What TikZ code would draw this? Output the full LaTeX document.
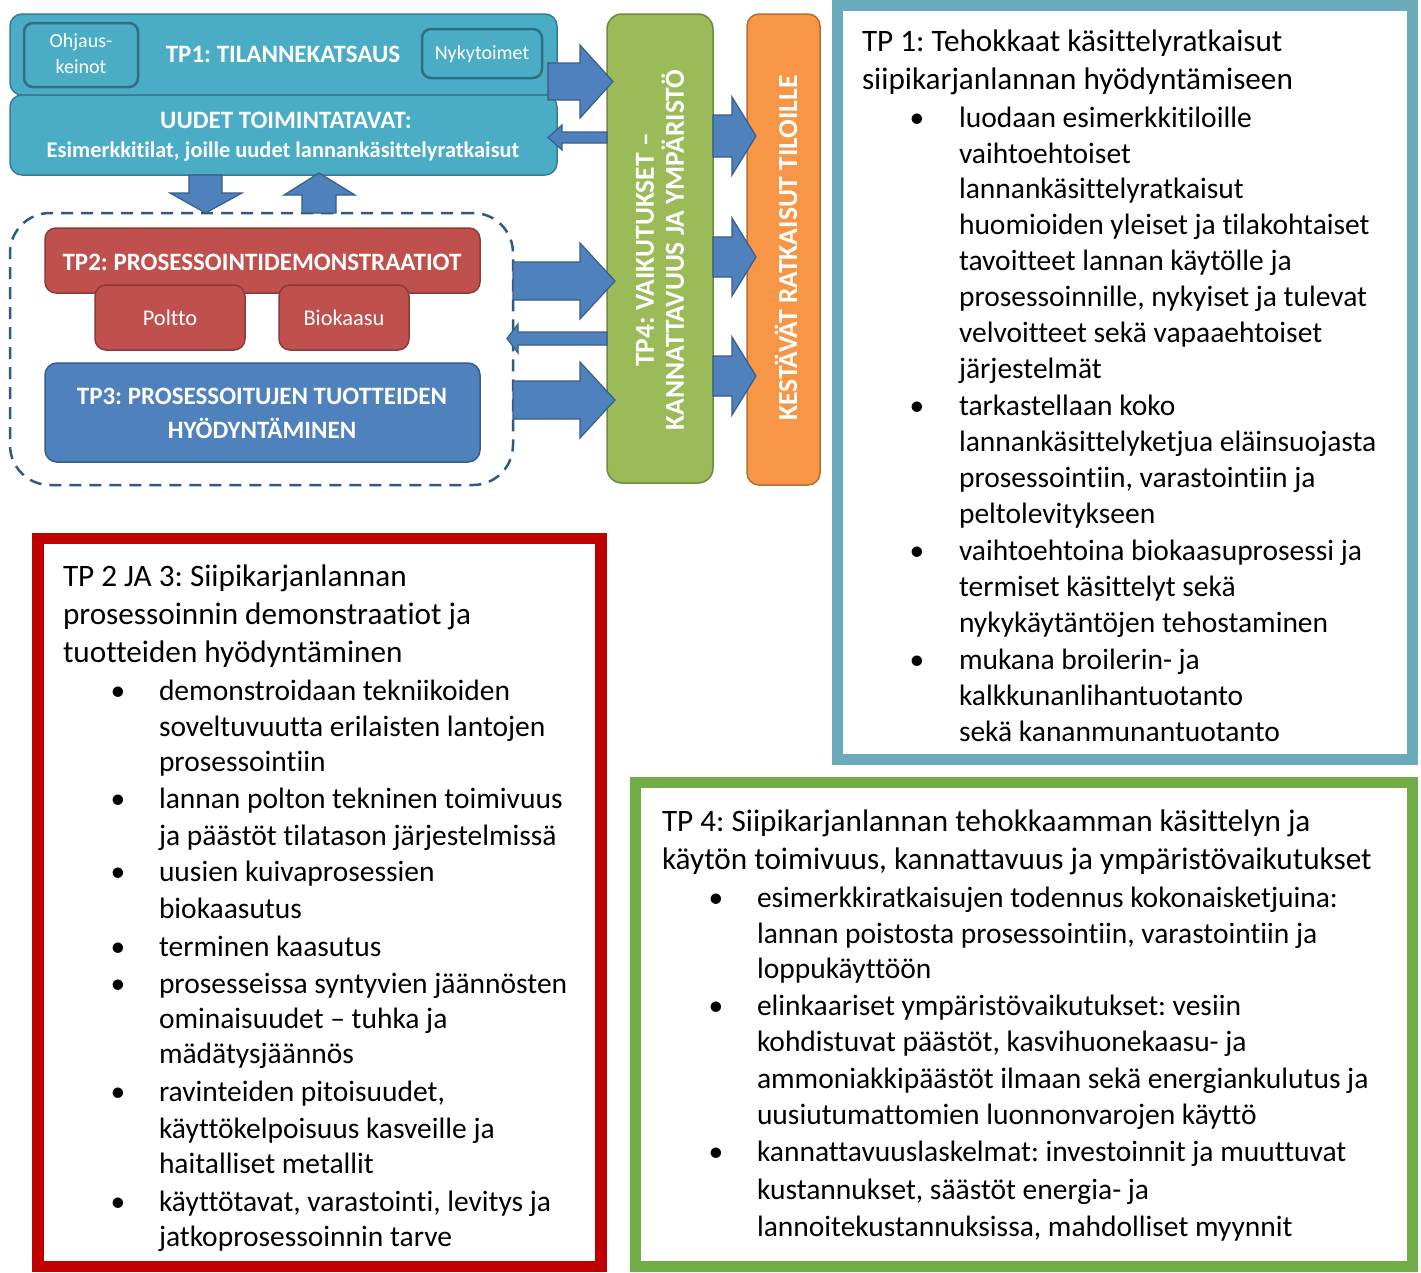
\documentclass[tikz,border=0pt]{standalone}
\usepackage{fontspec}
\setmainfont{Carlito}[Ligatures={NoCommon}]
\newcommand\myfs[2]{\fontsize{#1}{#2}\selectfont}
\definecolor{tealfill}{HTML}{4BACC6}
\definecolor{tealdk}{HTML}{357F94}
\definecolor{tealin}{HTML}{2E6F80}
\definecolor{redfill}{HTML}{C0504D}
\definecolor{reddk}{HTML}{8C3A38}
\definecolor{bluefill}{HTML}{4F81BD}
\definecolor{bluedk}{HTML}{385D8A}
\definecolor{greenfill}{HTML}{9BBB59}
\definecolor{greendk}{HTML}{71893F}
\definecolor{orangefill}{HTML}{F79646}
\definecolor{orangedk}{HTML}{B66D31}
\definecolor{dashcol}{HTML}{2F5A87}
\definecolor{frameblue}{HTML}{69AABB}
\definecolor{framered}{HTML}{C00000}
\definecolor{framegreen}{HTML}{70AD47}
\tikzset{
  every node/.style={inner sep=0pt, outer sep=0pt},
  tealbox/.style={draw=tealdk, line width=1.5pt, fill=tealfill, rounded corners=12pt},
  innerbox/.style={draw=tealin, line width=2.5pt, fill=tealfill, rounded corners=9pt},
  redbox/.style={draw=reddk, line width=1.5pt, fill=redfill, rounded corners=11pt},
  bluebox/.style={draw=bluedk, line width=1.5pt, fill=bluefill, rounded corners=12pt},
  greenbox/.style={draw=greendk, line width=1.5pt, fill=greenfill, rounded corners=15pt},
  orangebox/.style={draw=orangedk, line width=1.5pt, fill=orangefill, rounded corners=12pt},
  blockarrow/.style={draw=bluedk, line width=1.2pt, fill=bluefill, line join=miter},
  grpbox/.style={draw=dashcol, line width=2.5pt, dash pattern=on 12pt off 8pt, rounded corners=40pt},
  wb/.style={text=white, font=\bfseries\myfs{25}{34}, align=center},
  wr/.style={text=white, font=\myfs{20}{26}, align=center},
  ptitle/.style={anchor=west, font=\myfs{31.2}{38}, text height=24.5pt, text depth=6.5pt},
  pline/.style={anchor=west, font=\myfs{29.5}{36}, text height=23pt, text depth=6pt},
  pbul/.style={anchor=center, font=\myfs{29.5}{36}, text height=23pt, text depth=6pt},
  pframe/.style={draw=#1, line width=11.5pt, fill=white}
}
\begin{document}
\frenchspacing
\begin{tikzpicture}[x=1pt,y=-1pt]
\useasboundingbox (0,0) rectangle (1421,1272);
\fill[white] (0,0) rectangle (1421,1272);

% ---------- diagram ----------
\node[grpbox, minimum width=503pt, minimum height=272pt] (grp) at (261.5,349) {};

\node[tealbox, minimum width=547pt, minimum height=81pt] (tp1) at (283.5,54.5) {};
\node[tealbox, minimum width=547pt, minimum height=80pt] (uud) at (283.5,135) {};
\node[innerbox, minimum width=114pt, minimum height=64pt] (ohj) at (81,55) {};
\node[innerbox, minimum width=120pt, minimum height=49pt] (nyk) at (482,53.5) {};
\node[wb] (tp1t) at (283,54) {TP1: TILANNEKATSAUS};
\node[wr] (ohjt) at (81,54) {Ohjaus-\\keinot};
\node[wr] (nykt) at (482,54) {Nykytoimet};
\node[wb] (uudt1) at (286,120) {UUDET TOIMINTATAVAT:};
\node[wb, font=\bfseries\myfs{22.4}{26}] (uudt2) at (283,152) {Esimerkkitilat, joille uudet lannankäsittelyratkaisut};

\node[redbox, minimum width=435pt, minimum height=65pt] (tp2) at (262.5,260.5) {};
\node[wb] (tp2t) at (262,262) {TP2: PROSESSOINTIDEMONSTRAATIOT};
\node[redbox, minimum width=150pt, minimum height=65pt] (pol) at (170,317.5) {};
\node[redbox, minimum width=130pt, minimum height=65pt] (bio) at (344,317.5) {};
\node[wr, font=\myfs{22.4}{26}] (polt) at (170,318) {Poltto};
\node[wr, font=\myfs{22.4}{26}] (biot) at (344,318) {Biokaasu};

\node[bluebox, minimum width=435pt, minimum height=99pt] (tp3) at (262.5,412.5) {};
\node[wb] (tp3t) at (262,413) {TP3: PROSESSOITUJEN TUOTTEIDEN\\HYÖDYNTÄMINEN};

\node[greenbox, minimum width=106pt, minimum height=469pt] (tp4) at (660,248.5) {};
\node[wb, rotate=90, font=\bfseries\myfs{27.5}{30}] (tp4t) at (660,250) {TP4: VAIKUTUKSET –\\KANNATTAVUUS JA YMPÄRISTÖ};
\node[orangebox, minimum width=73pt, minimum height=471pt] (kes) at (783.5,249.5) {};
\node[wb, rotate=90, font=\bfseries\myfs{27.5}{30}] (kest) at (786,248) {KESTÄVÄT RATKAISUT TILOILLE};

% ---------- block arrows ----------
% TP1 -> TP4
\draw[blockarrow] (548,63) -- (580,63) -- (580,45) -- (613,81.5) -- (580,118) -- (580,100) -- (548,100) -- cycle;
% TP4 -> UUDET (thin)
\draw[blockarrow] (tp4.west |- 0,132) -- (562,132) -- (562,125) -- (548,137.5) -- (562,150) -- (562,143) -- (tp4.west |- 0,143) -- cycle;
% TP4 -> KESTAVAT (three)
\draw[blockarrow] (tp4.east |- 0,115) -- (732,115) -- (732,97) -- (756,136) -- (732,175) -- (732,157) -- (tp4.east |- 0,157) -- cycle;
\draw[blockarrow] (tp4.east |- 0,237) -- (732,237) -- (732,218) -- (756,257) -- (732,296) -- (732,277) -- (tp4.east |- 0,277) -- cycle;
\draw[blockarrow] (tp4.east |- 0,356) -- (732,356) -- (732,337) -- (756,376) -- (732,415) -- (732,396) -- (tp4.east |- 0,396) -- cycle;
% group -> TP4
\draw[blockarrow] (grp.east |- 0,262) -- (580,262) -- (580,243) -- (615,281) -- (580,319) -- (580,300) -- (grp.east |- 0,300) -- cycle;
\draw[blockarrow] (grp.east |- 0,381) -- (580,381) -- (580,362) -- (615,400) -- (580,438) -- (580,419) -- (grp.east |- 0,419) -- cycle;
% TP4 -> group (thin)
\draw[blockarrow] (tp4.west |- 0,332) -- (518,332) -- (518,324) -- (507,338.5) -- (518,353) -- (518,345) -- (tp4.west |- 0,345) -- cycle;
% UUDET -> group (down)
\draw[blockarrow] (189,175) -- (222,175) -- (222,193) -- (242,193) -- (205.5,213) -- (170,193) -- (189,193) -- cycle;
% group -> UUDET (up)
\draw[blockarrow] (302,213) -- (302,195) -- (284,195) -- (319,173) -- (355,195) -- (336,195) -- (336,213) -- cycle;

% ---------- TP1 panel ----------
\node[pframe=frameblue, minimum width=575pt, minimum height=754pt] (p1) at (1125,382.5) {};
\node[ptitle] (p1a) at (862,42) {TP 1: Tehokkaat käsittelyratkaisut};
\node[ptitle] (p1b) at (862,80) {siipikarjanlannan hyödyntämiseen};
\node[pbul] (p1u1) at (917,119) {•};
\node[pline] (p1c) at (959,119) {luodaan esimerkkitiloille};
\node[pline] (p1d) at (959,155) {vaihtoehtoiset};
\node[pline] (p1e) at (959,190) {lannankäsittelyratkaisut};
\node[pline] (p1f) at (959,226) {huomioiden yleiset ja tilakohtaiset};
\node[pline] (p1g) at (959,262) {tavoitteet lannan käytölle ja};
\node[pline] (p1h) at (959,298) {prosessoinnille, nykyiset ja tulevat};
\node[pline] (p1i) at (959,334) {velvoitteet sekä vapaaehtoiset};
\node[pline] (p1j) at (959,370) {järjestelmät};
\node[pbul] (p1u2) at (917,407) {•};
\node[pline] (p1k) at (959,407) {tarkastellaan koko};
\node[pline] (p1l) at (959,443) {lannankäsittelyketjua eläinsuojasta};
\node[pline] (p1m) at (959,479) {prosessointiin, varastointiin ja};
\node[pline] (p1n) at (959,515) {peltolevitykseen};
\node[pbul] (p1u3) at (917,552) {•};
\node[pline] (p1o) at (959,552) {vaihtoehtoina biokaasuprosessi ja};
\node[pline] (p1p) at (959,588) {termiset käsittelyt sekä};
\node[pline] (p1q) at (959,624) {nykykäytäntöjen tehostaminen};
\node[pbul] (p1u4) at (917,661) {•};
\node[pline] (p1r) at (959,661) {mukana broilerin- ja};
\node[pline] (p1s) at (959,697) {kalkkunanlihantuotanto};
\node[pline] (p1t) at (959,733) {sekä kananmunantuotanto};

% ---------- TP2/3 panel ----------
\node[pframe=framered, minimum width=563pt, minimum height=728pt] (p2) at (319.5,902.5) {};
\node[ptitle] (p2a) at (63,577) {TP 2 JA 3: Siipikarjanlannan};
\node[ptitle] (p2b) at (63,615) {prosessoinnin demonstraatiot ja};
\node[ptitle] (p2c) at (63,653) {tuotteiden hyödyntäminen};
\node[pbul] (p2u1) at (118,692) {•};
\node[pline] (p2d) at (159,692) {demonstroidaan tekniikoiden};
\node[pline] (p2e) at (159,728) {soveltuvuutta erilaisten lantojen};
\node[pline] (p2f) at (159,763) {prosessointiin};
\node[pbul] (p2u2) at (118,800) {•};
\node[pline] (p2g) at (159,800) {lannan polton tekninen toimivuus};
\node[pline] (p2h) at (159,837) {ja päästöt tilatason järjestelmissä};
\node[pbul] (p2u3) at (118,873) {•};
\node[pline] (p2i) at (159,873) {uusien kuivaprosessien};
\node[pline] (p2j) at (159,910) {biokaasutus};
\node[pbul] (p2u4) at (118,948) {•};
\node[pline] (p2k) at (159,948) {terminen kaasutus};
\node[pbul] (p2u5) at (118,985) {•};
\node[pline] (p2l) at (159,985) {prosesseissa syntyvien jäännösten};
\node[pline] (p2m) at (159,1020) {ominaisuudet – tuhka ja};
\node[pline] (p2n) at (159,1055) {mädätysjäännös};
\node[pbul] (p2u6) at (118,1093) {•};
\node[pline] (p2o) at (159,1093) {ravinteiden pitoisuudet,};
\node[pline] (p2p) at (159,1130) {käyttökelpoisuus kasveille ja};
\node[pline] (p2q) at (159,1165) {haitalliset metallit};
\node[pbul] (p2u7) at (118,1203) {•};
\node[pline] (p2r) at (159,1203) {käyttötavat, varastointi, levitys ja};
\node[pline] (p2s) at (159,1238) {jatkoprosessoinnin tarve};

% ---------- TP4 panel ----------
\node[pframe=framegreen, minimum width=777pt, minimum height=484pt] (p4) at (1024,1024.5) {};
\node[ptitle] (p4a) at (662,822) {TP 4: Siipikarjanlannan tehokkaamman käsittelyn ja};
\node[ptitle] (p4b) at (662,860) {käytön toimivuus, kannattavuus ja ympäristövaikutukset};
\node[pbul] (p4u1) at (716,899) {•};
\node[pline] (p4c) at (757,899) {esimerkkiratkaisujen todennus kokonaisketjuina:};
\node[pline] (p4d) at (757,935) {lannan poistosta prosessointiin, varastointiin ja};
\node[pline] (p4e) at (757,970) {loppukäyttöön};
\node[pbul] (p4u2) at (716,1007) {•};
\node[pline] (p4f) at (757,1007) {elinkaariset ympäristövaikutukset: vesiin};
\node[pline] (p4g) at (757,1043) {kohdistuvat päästöt, kasvihuonekaasu- ja};
\node[pline] (p4h) at (757,1080) {ammoniakkipäästöt ilmaan sekä energiankulutus ja};
\node[pline] (p4i) at (757,1116) {uusiutumattomien luonnonvarojen käyttö};
\node[pbul] (p4u3) at (716,1153) {•};
\node[pline] (p4j) at (757,1153) {kannattavuuslaskelmat: investoinnit ja muuttuvat};
\node[pline] (p4k) at (757,1191) {kustannukset, säästöt energia- ja};
\node[pline] (p4l) at (757,1228) {lannoitekustannuksissa, mahdolliset myynnit};
\end{tikzpicture}
\end{document}
